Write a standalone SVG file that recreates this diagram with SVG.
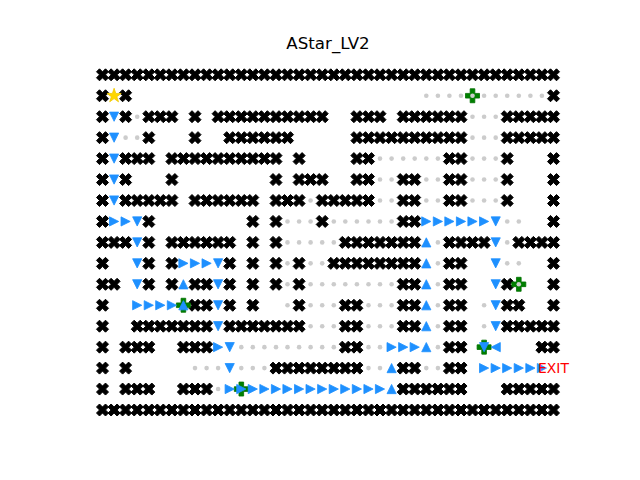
<svg xmlns="http://www.w3.org/2000/svg" xmlns:xlink="http://www.w3.org/1999/xlink" width="640" height="480" viewBox="0 0 640 480">
<style>
.t{font-family:"DejaVu Sans","Liberation Sans",sans-serif;}
</style>
<defs>
<path id="w" d="M-3,-6 L0,-3 L3,-6 L6,-3 L3,0 L6,3 L3,6 L0,3 L-3,6 L-6,3 L-3,0 L-6,-3 Z" fill="#000" stroke="#000" stroke-width="1"/>
<circle id="d" r="2.3" fill="#cccccc"/>
<path id="tu" d="M0,-4.6 L4.6,4.6 L-4.6,4.6 Z" fill="#1e90ff" stroke="#1e90ff" stroke-width="0.8"/>
<path id="td" d="M-4.6,-4.6 L4.6,-4.6 L0,4.6 Z" fill="#1e90ff" stroke="#1e90ff" stroke-width="0.8"/>
<path id="tr" d="M-4.6,-4.6 L4.6,0 L-4.6,4.6 Z" fill="#1e90ff" stroke="#1e90ff" stroke-width="0.8"/>
<path id="tl" d="M4.6,-4.6 L-4.6,0 L4.6,4.6 Z" fill="#1e90ff" stroke="#1e90ff" stroke-width="0.8"/>
<path id="p" d="M-2.33,-7 H2.33 V-2.33 H7 V2.33 H2.33 V7 H-2.33 V2.33 H-7 V-2.33 H-2.33 Z" fill="#008000" stroke="#007000" stroke-width="0.8"/>
<g id="fullrow">
<use href="#w" x="102.5"/><use href="#w" x="114.1"/><use href="#w" x="125.6"/><use href="#w" x="137.2"/><use href="#w" x="148.8"/><use href="#w" x="160.3"/><use href="#w" x="171.9"/><use href="#w" x="183.4"/><use href="#w" x="195.0"/><use href="#w" x="206.6"/><use href="#w" x="218.1"/><use href="#w" x="229.7"/><use href="#w" x="241.3"/><use href="#w" x="252.8"/><use href="#w" x="264.4"/><use href="#w" x="276.0"/><use href="#w" x="287.5"/><use href="#w" x="299.1"/><use href="#w" x="310.6"/><use href="#w" x="322.2"/><use href="#w" x="333.8"/><use href="#w" x="345.3"/><use href="#w" x="356.9"/><use href="#w" x="368.5"/><use href="#w" x="380.0"/><use href="#w" x="391.6"/><use href="#w" x="403.2"/><use href="#w" x="414.7"/><use href="#w" x="426.3"/><use href="#w" x="437.9"/><use href="#w" x="449.4"/><use href="#w" x="461.0"/><use href="#w" x="472.5"/><use href="#w" x="484.1"/><use href="#w" x="495.7"/><use href="#w" x="507.2"/><use href="#w" x="518.8"/><use href="#w" x="530.4"/><use href="#w" x="541.9"/><use href="#w" x="553.5"/>
</g>
</defs>
<rect width="640" height="480" fill="#fff"/>
<text class="t" x="328" y="48.5" font-size="16.67" text-anchor="middle" fill="#000">AStar_LV2</text>

<g id="walls">
<use href="#fullrow" y="74.8"/>
<use href="#fullrow" y="410"/>
<g transform="translate(0,95.75)"><use href="#w" x="102.5"/><use href="#w" x="125.6"/><use href="#w" x="553.5"/></g>
<g transform="translate(0,116.7)"><use href="#w" x="102.5"/><use href="#w" x="125.6"/><use href="#w" x="148.8"/><use href="#w" x="160.3"/><use href="#w" x="171.9"/><use href="#w" x="195.0"/><use href="#w" x="218.1"/><use href="#w" x="229.7"/><use href="#w" x="241.3"/><use href="#w" x="252.8"/><use href="#w" x="264.4"/><use href="#w" x="276.0"/><use href="#w" x="287.5"/><use href="#w" x="299.1"/><use href="#w" x="310.6"/><use href="#w" x="322.2"/><use href="#w" x="356.9"/><use href="#w" x="368.5"/><use href="#w" x="380.0"/><use href="#w" x="403.2"/><use href="#w" x="414.7"/><use href="#w" x="426.3"/><use href="#w" x="437.9"/><use href="#w" x="449.4"/><use href="#w" x="461.0"/><use href="#w" x="507.2"/><use href="#w" x="518.8"/><use href="#w" x="530.4"/><use href="#w" x="541.9"/><use href="#w" x="553.5"/></g>
<g transform="translate(0,137.65)"><use href="#w" x="102.5"/><use href="#w" x="148.8"/><use href="#w" x="195.0"/><use href="#w" x="229.7"/><use href="#w" x="241.3"/><use href="#w" x="252.8"/><use href="#w" x="264.4"/><use href="#w" x="276.0"/><use href="#w" x="287.5"/><use href="#w" x="356.9"/><use href="#w" x="368.5"/><use href="#w" x="380.0"/><use href="#w" x="391.6"/><use href="#w" x="403.2"/><use href="#w" x="414.7"/><use href="#w" x="426.3"/><use href="#w" x="437.9"/><use href="#w" x="449.4"/><use href="#w" x="461.0"/><use href="#w" x="507.2"/><use href="#w" x="518.8"/><use href="#w" x="530.4"/><use href="#w" x="541.9"/><use href="#w" x="553.5"/></g>
<g transform="translate(0,158.6)"><use href="#w" x="102.5"/><use href="#w" x="125.6"/><use href="#w" x="137.2"/><use href="#w" x="148.8"/><use href="#w" x="171.9"/><use href="#w" x="183.4"/><use href="#w" x="195.0"/><use href="#w" x="206.6"/><use href="#w" x="218.1"/><use href="#w" x="229.7"/><use href="#w" x="241.3"/><use href="#w" x="252.8"/><use href="#w" x="264.4"/><use href="#w" x="276.0"/><use href="#w" x="299.1"/><use href="#w" x="356.9"/><use href="#w" x="368.5"/><use href="#w" x="449.4"/><use href="#w" x="461.0"/><use href="#w" x="507.2"/><use href="#w" x="553.5"/></g>
<g transform="translate(0,179.55)"><use href="#w" x="102.5"/><use href="#w" x="125.6"/><use href="#w" x="171.9"/><use href="#w" x="276.0"/><use href="#w" x="299.1"/><use href="#w" x="310.6"/><use href="#w" x="322.2"/><use href="#w" x="356.9"/><use href="#w" x="368.5"/><use href="#w" x="403.2"/><use href="#w" x="414.7"/><use href="#w" x="449.4"/><use href="#w" x="461.0"/><use href="#w" x="507.2"/><use href="#w" x="553.5"/></g>
<g transform="translate(0,200.5)"><use href="#w" x="102.5"/><use href="#w" x="125.6"/><use href="#w" x="137.2"/><use href="#w" x="148.8"/><use href="#w" x="160.3"/><use href="#w" x="171.9"/><use href="#w" x="195.0"/><use href="#w" x="206.6"/><use href="#w" x="218.1"/><use href="#w" x="229.7"/><use href="#w" x="241.3"/><use href="#w" x="252.8"/><use href="#w" x="276.0"/><use href="#w" x="287.5"/><use href="#w" x="299.1"/><use href="#w" x="322.2"/><use href="#w" x="333.8"/><use href="#w" x="345.3"/><use href="#w" x="356.9"/><use href="#w" x="368.5"/><use href="#w" x="403.2"/><use href="#w" x="414.7"/><use href="#w" x="449.4"/><use href="#w" x="461.0"/><use href="#w" x="507.2"/><use href="#w" x="553.5"/></g>
<g transform="translate(0,221.45)"><use href="#w" x="102.5"/><use href="#w" x="148.8"/><use href="#w" x="252.8"/><use href="#w" x="276.0"/><use href="#w" x="322.2"/><use href="#w" x="403.2"/><use href="#w" x="414.7"/><use href="#w" x="553.5"/></g>
<g transform="translate(0,242.4)"><use href="#w" x="102.5"/><use href="#w" x="114.1"/><use href="#w" x="125.6"/><use href="#w" x="148.8"/><use href="#w" x="171.9"/><use href="#w" x="183.4"/><use href="#w" x="195.0"/><use href="#w" x="206.6"/><use href="#w" x="218.1"/><use href="#w" x="229.7"/><use href="#w" x="252.8"/><use href="#w" x="276.0"/><use href="#w" x="345.3"/><use href="#w" x="356.9"/><use href="#w" x="368.5"/><use href="#w" x="380.0"/><use href="#w" x="391.6"/><use href="#w" x="403.2"/><use href="#w" x="414.7"/><use href="#w" x="449.4"/><use href="#w" x="461.0"/><use href="#w" x="472.5"/><use href="#w" x="484.1"/><use href="#w" x="518.8"/><use href="#w" x="530.4"/><use href="#w" x="541.9"/><use href="#w" x="553.5"/></g>
<g transform="translate(0,263.35)"><use href="#w" x="102.5"/><use href="#w" x="148.8"/><use href="#w" x="171.9"/><use href="#w" x="229.7"/><use href="#w" x="252.8"/><use href="#w" x="276.0"/><use href="#w" x="299.1"/><use href="#w" x="333.8"/><use href="#w" x="345.3"/><use href="#w" x="356.9"/><use href="#w" x="368.5"/><use href="#w" x="380.0"/><use href="#w" x="391.6"/><use href="#w" x="403.2"/><use href="#w" x="414.7"/><use href="#w" x="449.4"/><use href="#w" x="461.0"/><use href="#w" x="553.5"/></g>
<g transform="translate(0,284.3)"><use href="#w" x="102.5"/><use href="#w" x="114.1"/><use href="#w" x="148.8"/><use href="#w" x="171.9"/><use href="#w" x="195.0"/><use href="#w" x="206.6"/><use href="#w" x="229.7"/><use href="#w" x="252.8"/><use href="#w" x="276.0"/><use href="#w" x="299.1"/><use href="#w" x="403.2"/><use href="#w" x="414.7"/><use href="#w" x="449.4"/><use href="#w" x="461.0"/><use href="#w" x="507.2"/><use href="#w" x="553.5"/></g>
<g transform="translate(0,305.25)"><use href="#w" x="102.5"/><use href="#w" x="195.0"/><use href="#w" x="206.6"/><use href="#w" x="229.7"/><use href="#w" x="252.8"/><use href="#w" x="299.1"/><use href="#w" x="345.3"/><use href="#w" x="356.9"/><use href="#w" x="403.2"/><use href="#w" x="414.7"/><use href="#w" x="449.4"/><use href="#w" x="461.0"/><use href="#w" x="507.2"/><use href="#w" x="518.8"/><use href="#w" x="553.5"/></g>
<g transform="translate(0,326.2)"><use href="#w" x="102.5"/><use href="#w" x="137.2"/><use href="#w" x="148.8"/><use href="#w" x="160.3"/><use href="#w" x="171.9"/><use href="#w" x="183.4"/><use href="#w" x="195.0"/><use href="#w" x="206.6"/><use href="#w" x="229.7"/><use href="#w" x="241.3"/><use href="#w" x="252.8"/><use href="#w" x="264.4"/><use href="#w" x="276.0"/><use href="#w" x="287.5"/><use href="#w" x="299.1"/><use href="#w" x="345.3"/><use href="#w" x="356.9"/><use href="#w" x="403.2"/><use href="#w" x="414.7"/><use href="#w" x="449.4"/><use href="#w" x="461.0"/><use href="#w" x="507.2"/><use href="#w" x="518.8"/><use href="#w" x="530.4"/><use href="#w" x="541.9"/><use href="#w" x="553.5"/></g>
<g transform="translate(0,347.15)"><use href="#w" x="102.5"/><use href="#w" x="125.6"/><use href="#w" x="137.2"/><use href="#w" x="148.8"/><use href="#w" x="183.4"/><use href="#w" x="195.0"/><use href="#w" x="206.6"/><use href="#w" x="345.3"/><use href="#w" x="356.9"/><use href="#w" x="449.4"/><use href="#w" x="461.0"/><use href="#w" x="541.9"/><use href="#w" x="553.5"/></g>
<g transform="translate(0,368.1)"><use href="#w" x="102.5"/><use href="#w" x="125.6"/><use href="#w" x="276.0"/><use href="#w" x="287.5"/><use href="#w" x="299.1"/><use href="#w" x="310.6"/><use href="#w" x="322.2"/><use href="#w" x="333.8"/><use href="#w" x="345.3"/><use href="#w" x="356.9"/><use href="#w" x="403.2"/><use href="#w" x="414.7"/><use href="#w" x="449.4"/><use href="#w" x="461.0"/></g>
<g transform="translate(0,389.05)"><use href="#w" x="102.5"/><use href="#w" x="125.6"/><use href="#w" x="137.2"/><use href="#w" x="148.8"/><use href="#w" x="183.4"/><use href="#w" x="195.0"/><use href="#w" x="206.6"/><use href="#w" x="403.2"/><use href="#w" x="414.7"/><use href="#w" x="426.3"/><use href="#w" x="437.9"/><use href="#w" x="449.4"/><use href="#w" x="461.0"/><use href="#w" x="507.2"/><use href="#w" x="518.8"/><use href="#w" x="530.4"/><use href="#w" x="541.9"/><use href="#w" x="553.5"/></g>
</g>

<g id="keys">
<use href="#p" x="472.5" y="95.75"/>
<use href="#p" x="518.8" y="284.3"/>
<use href="#p" x="183.4" y="305.25"/>
<use href="#p" x="484.1" y="347.15"/>
<use href="#p" x="241.3" y="389.05"/>
</g>

<g id="visited">
<g transform="translate(0,95.75)"><use href="#d" x="426.3"/><use href="#d" x="437.9"/><use href="#d" x="449.4"/><use href="#d" x="461.0"/><use href="#d" x="472.5"/><use href="#d" x="484.1"/><use href="#d" x="495.7"/><use href="#d" x="507.2"/><use href="#d" x="518.8"/><use href="#d" x="530.4"/><use href="#d" x="541.9"/></g>
<g transform="translate(0,116.7)"><use href="#d" x="137.2"/><use href="#d" x="472.5"/><use href="#d" x="484.1"/><use href="#d" x="495.7"/></g>
<g transform="translate(0,137.65)"><use href="#d" x="125.6"/><use href="#d" x="137.2"/><use href="#d" x="472.5"/><use href="#d" x="484.1"/><use href="#d" x="495.7"/></g>
<g transform="translate(0,158.6)"><use href="#d" x="380.0"/><use href="#d" x="391.6"/><use href="#d" x="403.2"/><use href="#d" x="414.7"/><use href="#d" x="426.3"/><use href="#d" x="437.9"/><use href="#d" x="472.5"/><use href="#d" x="484.1"/><use href="#d" x="495.7"/></g>
<g transform="translate(0,179.55)"><use href="#d" x="380.0"/><use href="#d" x="391.6"/><use href="#d" x="426.3"/><use href="#d" x="437.9"/><use href="#d" x="472.5"/><use href="#d" x="484.1"/><use href="#d" x="495.7"/></g>
<g transform="translate(0,200.5)"><use href="#d" x="310.6"/><use href="#d" x="380.0"/><use href="#d" x="391.6"/><use href="#d" x="426.3"/><use href="#d" x="437.9"/><use href="#d" x="472.5"/><use href="#d" x="484.1"/><use href="#d" x="495.7"/></g>
<g transform="translate(0,221.45)"><use href="#d" x="287.5"/><use href="#d" x="299.1"/><use href="#d" x="310.6"/><use href="#d" x="333.8"/><use href="#d" x="345.3"/><use href="#d" x="356.9"/><use href="#d" x="368.5"/><use href="#d" x="380.0"/><use href="#d" x="391.6"/><use href="#d" x="507.2"/><use href="#d" x="518.8"/></g>
<g transform="translate(0,242.4)"><use href="#d" x="287.5"/><use href="#d" x="299.1"/><use href="#d" x="310.6"/><use href="#d" x="322.2"/><use href="#d" x="333.8"/><use href="#d" x="437.9"/><use href="#d" x="507.2"/></g>
<g transform="translate(0,263.35)"><use href="#d" x="287.5"/><use href="#d" x="310.6"/><use href="#d" x="322.2"/><use href="#d" x="437.9"/><use href="#d" x="507.2"/><use href="#d" x="518.8"/></g>
<g transform="translate(0,284.3)"><use href="#d" x="287.5"/><use href="#d" x="310.6"/><use href="#d" x="322.2"/><use href="#d" x="333.8"/><use href="#d" x="345.3"/><use href="#d" x="356.9"/><use href="#d" x="368.5"/><use href="#d" x="380.0"/><use href="#d" x="391.6"/><use href="#d" x="437.9"/><use href="#d" x="518.8"/></g>
<g transform="translate(0,305.25)"><use href="#d" x="287.5"/><use href="#d" x="310.6"/><use href="#d" x="322.2"/><use href="#d" x="333.8"/><use href="#d" x="368.5"/><use href="#d" x="380.0"/><use href="#d" x="391.6"/><use href="#d" x="437.9"/><use href="#d" x="484.1"/></g>
<g transform="translate(0,326.2)"><use href="#d" x="310.6"/><use href="#d" x="322.2"/><use href="#d" x="333.8"/><use href="#d" x="368.5"/><use href="#d" x="380.0"/><use href="#d" x="391.6"/><use href="#d" x="437.9"/><use href="#d" x="484.1"/></g>
<g transform="translate(0,347.15)"><use href="#d" x="241.3"/><use href="#d" x="252.8"/><use href="#d" x="264.4"/><use href="#d" x="276.0"/><use href="#d" x="287.5"/><use href="#d" x="299.1"/><use href="#d" x="310.6"/><use href="#d" x="322.2"/><use href="#d" x="333.8"/><use href="#d" x="368.5"/><use href="#d" x="380.0"/><use href="#d" x="437.9"/></g>
<g transform="translate(0,368.1)"><use href="#d" x="195.0"/><use href="#d" x="206.6"/><use href="#d" x="218.1"/><use href="#d" x="241.3"/><use href="#d" x="252.8"/><use href="#d" x="264.4"/><use href="#d" x="368.5"/><use href="#d" x="380.0"/><use href="#d" x="426.3"/><use href="#d" x="437.9"/></g>
<g transform="translate(0,389.05)"><use href="#d" x="218.1"/></g>
</g>

<g id="path">
<g transform="translate(0,116.7)"><use href="#td" x="114.1"/></g>
<g transform="translate(0,137.65)"><use href="#td" x="114.1"/></g>
<g transform="translate(0,158.6)"><use href="#td" x="114.1"/></g>
<g transform="translate(0,179.55)"><use href="#td" x="114.1"/></g>
<g transform="translate(0,200.5)"><use href="#td" x="114.1"/></g>
<g transform="translate(0,221.45)"><use href="#tr" x="114.1"/><use href="#tr" x="125.6"/><use href="#td" x="137.2"/><use href="#tr" x="426.3"/><use href="#tr" x="437.9"/><use href="#tr" x="449.4"/><use href="#tr" x="461.0"/><use href="#tr" x="472.5"/><use href="#tr" x="484.1"/><use href="#td" x="495.7"/></g>
<g transform="translate(0,242.4)"><use href="#td" x="137.2"/><use href="#tu" x="426.3"/><use href="#td" x="495.7"/></g>
<g transform="translate(0,263.35)"><use href="#td" x="137.2"/><use href="#tr" x="183.4"/><use href="#tr" x="195.0"/><use href="#tr" x="206.6"/><use href="#td" x="218.1"/><use href="#tu" x="426.3"/><use href="#td" x="495.7"/></g>
<g transform="translate(0,284.3)"><use href="#td" x="137.2"/><use href="#tu" x="183.4"/><use href="#td" x="218.1"/><use href="#tu" x="426.3"/><use href="#td" x="495.7"/></g>
<g transform="translate(0,305.25)"><use href="#tr" x="137.2"/><use href="#tr" x="148.8"/><use href="#tr" x="160.3"/><use href="#tr" x="171.9"/><use href="#tu" x="183.4"/><use href="#td" x="218.1"/><use href="#tu" x="426.3"/><use href="#td" x="495.7"/></g>
<g transform="translate(0,326.2)"><use href="#td" x="218.1"/><use href="#tu" x="426.3"/><use href="#td" x="495.7"/></g>
<g transform="translate(0,347.15)"><use href="#tr" x="218.1"/><use href="#td" x="229.7"/><use href="#tr" x="391.6"/><use href="#tr" x="403.2"/><use href="#tr" x="414.7"/><use href="#tu" x="426.3"/><use href="#td" x="484.1"/><use href="#tl" x="495.7"/></g>
<g transform="translate(0,368.1)"><use href="#td" x="229.7"/><use href="#tu" x="391.6"/><use href="#tr" x="484.1"/><use href="#tr" x="495.7"/><use href="#tr" x="507.2"/><use href="#tr" x="518.8"/><use href="#tr" x="530.4"/><use href="#tr" x="541.9"/></g>
<g transform="translate(0,389.05)"><use href="#tr" x="229.7"/><use href="#tr" x="241.3"/><use href="#tr" x="252.8"/><use href="#tr" x="264.4"/><use href="#tr" x="276.0"/><use href="#tr" x="287.5"/><use href="#tr" x="299.1"/><use href="#tr" x="310.6"/><use href="#tr" x="322.2"/><use href="#tr" x="333.8"/><use href="#tr" x="345.3"/><use href="#tr" x="356.9"/><use href="#tr" x="368.5"/><use href="#tr" x="380.0"/><use href="#tu" x="391.6"/></g>
</g>

<g id="start" transform="translate(114.1,95.75)">
<path d="M0,-7.5 L1.684,-2.318 L7.133,-2.318 L2.725,0.885 L4.408,6.068 L0,2.865 L-4.408,6.068 L-2.725,0.885 L-7.133,-2.318 L-1.684,-2.318 Z" fill="#ffd700" stroke="#f0c800" stroke-width="0.8"/>
</g>

<g id="exit">
<text class="t" x="553.5" y="372.6" font-size="13.9" text-anchor="middle" fill="#ff0000">EXIT</text>
</g>
</svg>
